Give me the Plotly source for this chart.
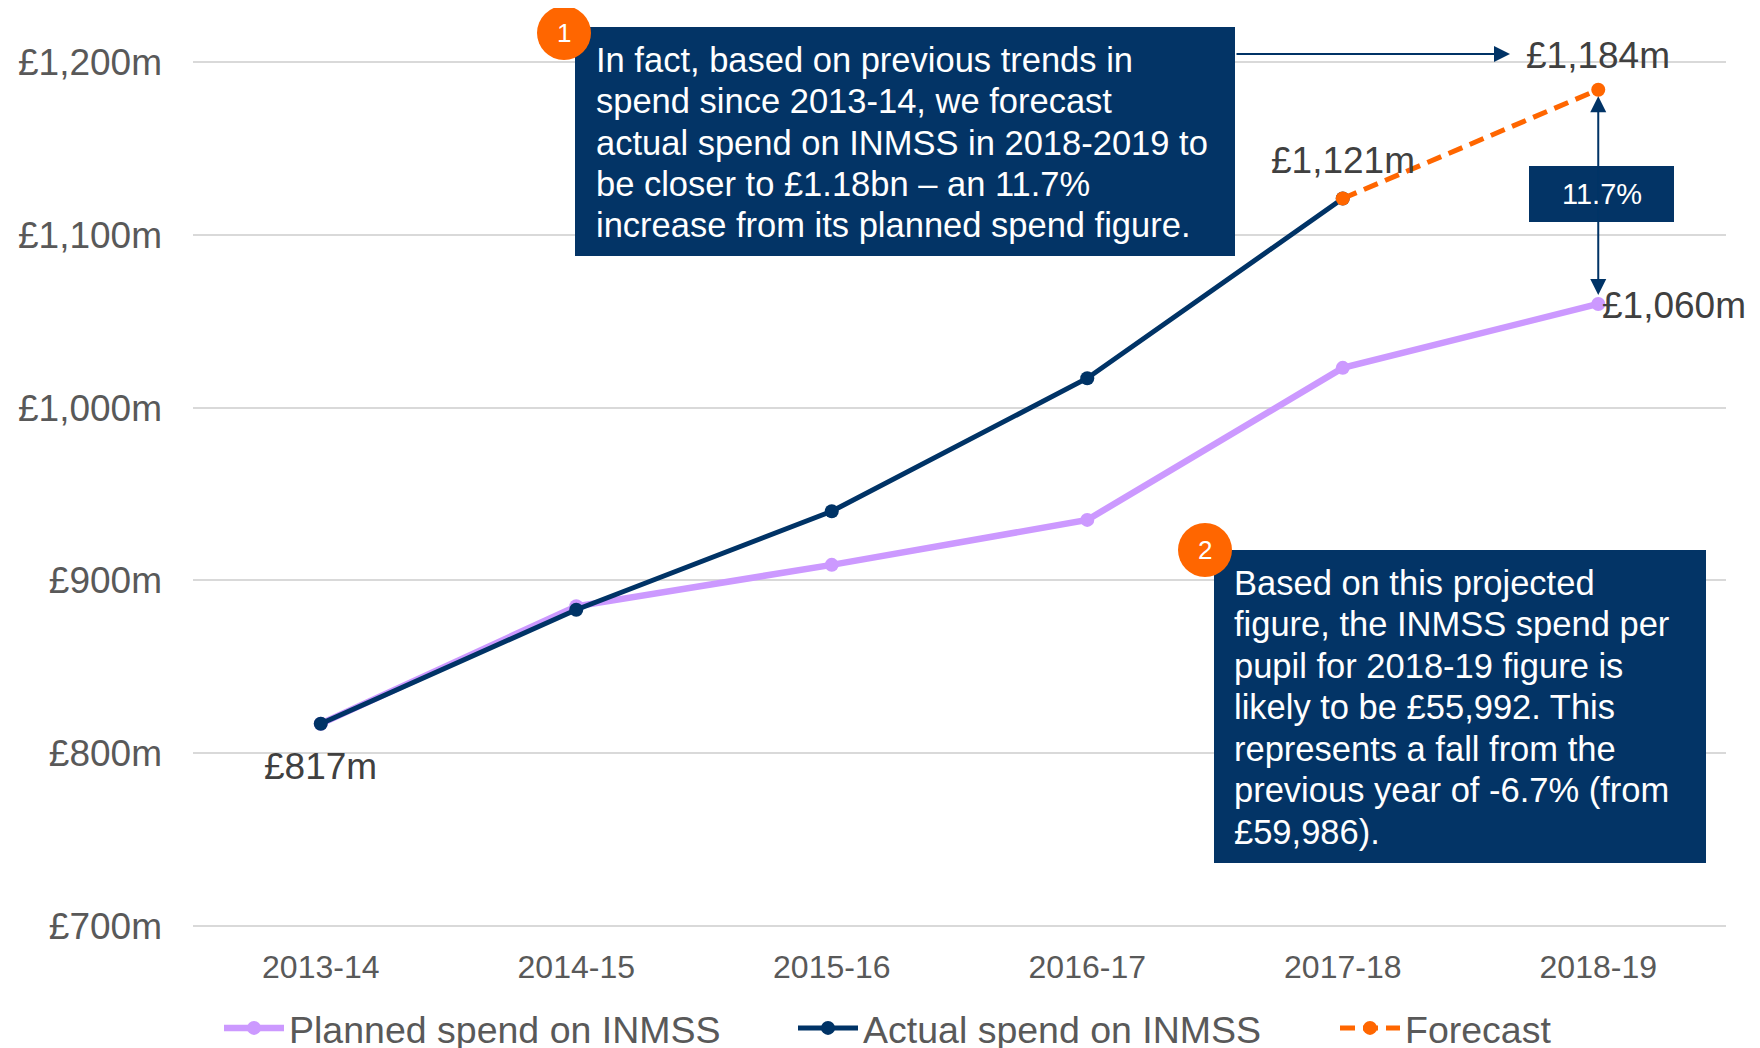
import plotly.graph_objects as go

# ---------------- data ----------------
years = ["2013-14", "2014-15", "2015-16", "2016-17", "2017-18", "2018-19"]
planned = [817, 885, 909, 935, 1023, 1060]
actual = [817, 883, 940, 1017, 1121]
forecast_years = ["2017-18", "2018-19"]
forecast = [1121, 1184]
y_tickvals = [700, 800, 900, 1000, 1100, 1200]
y_ticktext = ["£700m", "£800m", "£900m", "£1,000m", "£1,100m", "£1,200m"]

box1_lines = [
    "In fact, based on previous trends in",
    "spend since 2013-14, we forecast",
    "actual spend on INMSS in 2018-2019 to",
    "be closer to £1.18bn – an 11.7%",
    "increase from its planned spend figure.",
]
box2_lines = [
    "Based on this projected",
    "figure, the INMSS spend per",
    "pupil for 2018-19 figure is",
    "likely to be £55,992. This",
    "represents a fall from the",
    "previous year of -6.7% (from",
    "£59,986).",
]
pct_label = "11.7%"

# ---------------- styling ----------------
OFF = 8  # page body margin
W, H = 1760, 1048
ML, MT = 193 - OFF, 61 - OFF
PW, PH = 1533, 866
MR = W - ML - PW
MB = H - MT - PH
NAVY = "#003366"
BOX = "#033466"
PURPLE = "#CC99FF"
ORANGE = "#FF6600"
GRID = "#D9D9D9"
TICK = "#595959"
LABEL = "#404040"
FONT = "Liberation Sans, Arial, sans-serif"


def px2x(px):
    return (px - OFF - ML) / PW


def px2y(py):
    return (H - MB - (py - OFF)) / PH


def money(v):
    return f"£{v:,}m"


fig = go.Figure()
fig.add_trace(go.Scatter(
    x=years, y=planned, name="Planned spend on INMSS", mode="lines+markers",
    line=dict(color=PURPLE, width=6.5), marker=dict(color=PURPLE, size=14),
    legend="legend"))
fig.add_trace(go.Scatter(
    x=years[:len(actual)], y=actual, name="Actual spend on INMSS", mode="lines+markers",
    line=dict(color=NAVY, width=5), marker=dict(color=NAVY, size=14),
    legend="legend2"))
fig.add_trace(go.Scatter(
    x=forecast_years, y=forecast, name="Forecast", mode="lines+markers",
    line=dict(color=ORANGE, width=5, dash="15px,8px"), marker=dict(color=ORANGE, size=14),
    legend="legend3"))

shapes = []
annotations = []

# text box 1
shapes.append(dict(type="rect", xref="paper", yref="paper", layer="above",
                   x0=px2x(575), x1=px2x(1235), y0=px2y(256), y1=px2y(27),
                   fillcolor=BOX, line=dict(width=0)))
for i, t in enumerate(box1_lines):
    annotations.append(dict(xref="paper", yref="paper", x=px2x(594), y=px2y(59.5 + 41.5 * i),
                            xanchor="left", yanchor="middle", text=t, showarrow=False,
                            font=dict(size=34.5, color="white", family=FONT)))
# text box 2
shapes.append(dict(type="rect", xref="paper", yref="paper", layer="above",
                   x0=px2x(1214), x1=px2x(1706), y0=px2y(863), y1=px2y(550),
                   fillcolor=BOX, line=dict(width=0)))
for i, t in enumerate(box2_lines):
    annotations.append(dict(xref="paper", yref="paper", x=px2x(1232), y=px2y(582.5 + 41.5 * i),
                            xanchor="left", yanchor="middle", text=t, showarrow=False,
                            font=dict(size=34.5, color="white", family=FONT)))

# numbered circles
for (cx, cy, num) in [(564, 33, "1"), (1205, 550, "2")]:
    r = 27
    shapes.append(dict(type="circle", xref="paper", yref="paper", layer="above",
                       x0=px2x(cx - r), x1=px2x(cx + r), y0=px2y(cy + r), y1=px2y(cy - r),
                       fillcolor=ORANGE, line=dict(width=0)))
    annotations.append(dict(xref="paper", yref="paper", x=px2x(cx), y=px2y(cy), text=num,
                            showarrow=False, xanchor="center", yanchor="middle",
                            font=dict(size=26, color="white", family=FONT)))

# arrow from box 1 to forecast label
annotations.append(dict(xref="paper", yref="paper", x=px2x(1510), y=px2y(54),
                        axref="pixel", ayref="pixel", ax=-(1510 - 1235), ay=0, text="",
                        showarrow=True, arrowhead=2, arrowsize=1.6, arrowwidth=2,
                        arrowcolor=NAVY))
# double arrow between planned and forecast
annotations.append(dict(xref="x", yref="y", x=years[-1], y=planned[-1],
                        axref="x", ayref="y", ax=years[-1], ay=forecast[-1], text="",
                        showarrow=True, arrowhead=2, startarrowhead=2, arrowside="end+start",
                        arrowsize=1.6, startarrowsize=1.6, arrowwidth=2, arrowcolor=NAVY,
                        standoff=9, startstandoff=5))
# 11.7% box
shapes.append(dict(type="rect", xref="paper", yref="paper", layer="above",
                   x0=px2x(1529), x1=px2x(1674), y0=px2y(222), y1=px2y(166),
                   fillcolor=BOX, line=dict(width=0)))
annotations.append(dict(xref="paper", yref="paper", x=px2x(1601.5), y=px2y(194), text=pct_label,
                        showarrow=False, xanchor="center", yanchor="middle",
                        font=dict(size=29, color="white", family=FONT)))

# data labels
lab_font = dict(size=37, color=LABEL, family=FONT)
annotations.append(dict(x=years[0], y=actual[0], text=money(actual[0]), showarrow=False,
                        yshift=-43, font=lab_font))
annotations.append(dict(x=years[4], y=actual[4], text=money(actual[4]), showarrow=False,
                        yshift=38, font=lab_font))
annotations.append(dict(x=forecast_years[-1], y=forecast[-1], text=money(forecast[-1]),
                        showarrow=False, yshift=34, font=lab_font))
annotations.append(dict(x=years[-1], y=planned[-1], text=money(planned[-1]), showarrow=False,
                        xanchor="left", xshift=2, yshift=-2, font=lab_font))

leg_common = dict(orientation="h", yanchor="middle", y=px2y(1028), xanchor="left",
                  font=dict(size=37.5, color=TICK, family=FONT), bgcolor="rgba(0,0,0,0)",
                  itemwidth=60, tracegroupgap=0)

fig.update_layout(
    width=W, height=H,
    margin=dict(l=ML, r=MR, t=MT, b=MB, autoexpand=False),
    paper_bgcolor="white", plot_bgcolor="white",
    font=dict(family=FONT, color=TICK),
    showlegend=True,
    legend=dict(x=px2x(290 - 71), **leg_common),
    legend2=dict(x=px2x(864 - 71), **leg_common),
    legend3=dict(x=px2x(1406 - 71), **leg_common),
    shapes=shapes,
    annotations=annotations,
    xaxis=dict(type="category", categoryorder="array", categoryarray=years,
               range=[-0.5, len(years) - 0.5], showgrid=False, zeroline=False,
               showline=False, ticks="", tickfont=dict(size=32, color=TICK, family=FONT),
               ticklabelstandoff=18, fixedrange=True),
    yaxis=dict(range=[699.4, 1200.6], tickvals=y_tickvals, ticktext=y_ticktext,
               showgrid=True, gridcolor=GRID, gridwidth=2, zeroline=False, showline=False,
               ticks="", tickfont=dict(size=37, color=TICK, family=FONT),
               ticklabelstandoff=30, fixedrange=True),
)

fig.write_html("out.html")
